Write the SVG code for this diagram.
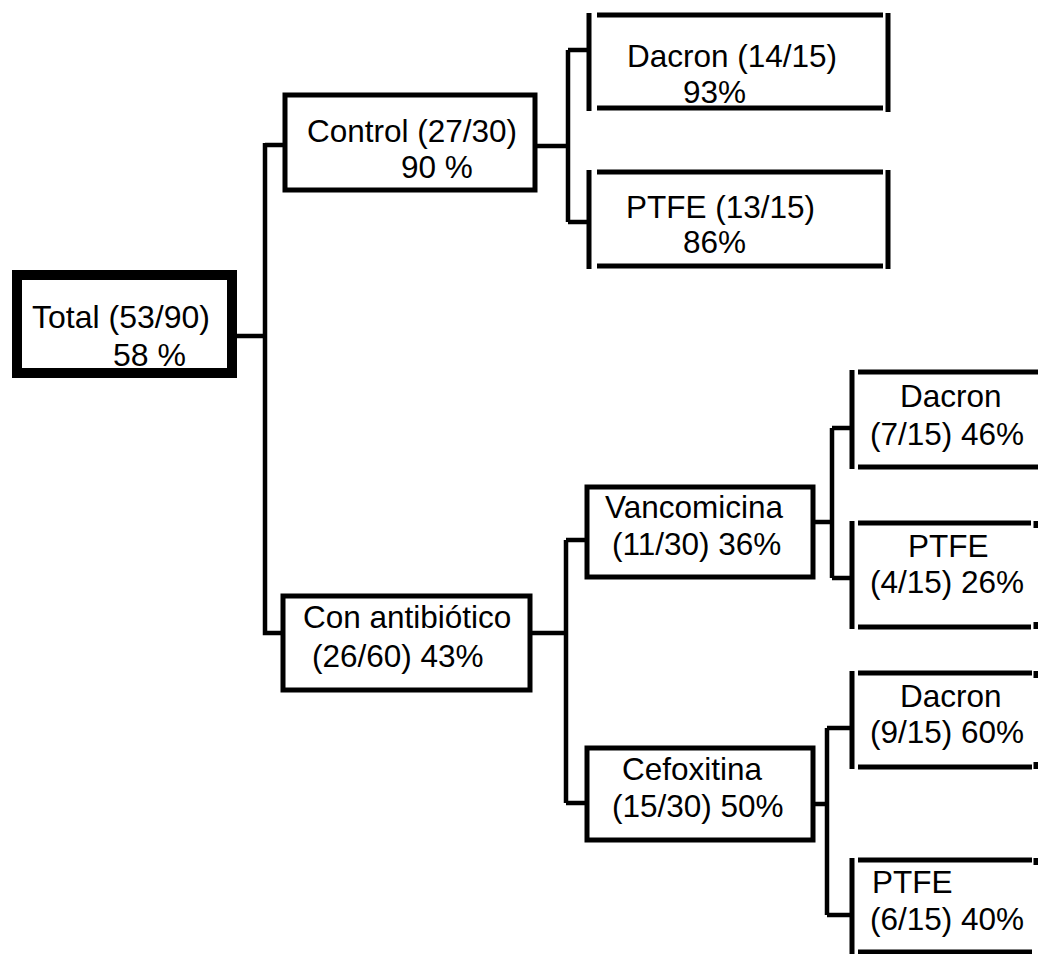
<svg xmlns="http://www.w3.org/2000/svg" width="1038" height="954" viewBox="0 0 1038 954">
<style>
text{font-family:"Liberation Sans",Arial,sans-serif;font-size:31.5px;fill:#000}
.box{fill:#fff;stroke:#000;stroke-width:5}
.leaf{fill:none;stroke:#000;stroke-width:5}
.conn{fill:none;stroke:#000;stroke-width:4.5}
</style>
<rect width="1038" height="954" fill="#fff"/>
<g id="connectors">
<path class="conn" d="M237 336H265M265 143V633H283M265 145H285"/>
<path class="conn" d="M535 146H568M568 50V222M568 50H589M568 222H589"/>
<path class="conn" d="M530 633H566M566 540V803M566 540H587M566 803H587"/>
<path class="conn" d="M813 522H832M832 428V578M832 428H852M832 578H852"/>
<path class="conn" d="M813 804H827M827 728V915M827 728H852M827 915H852"/>
</g>
<g id="total">
<rect x="17" y="275" width="215" height="98" fill="#fff" stroke="#000" stroke-width="10"/>
<text x="32" y="328" style="font-size:32px">Total (53/90)</text>
<text x="113" y="366" style="font-size:32px">58 %</text>
</g>
<g id="control">
<rect class="box" x="285" y="95" width="250" height="95"/>
<text x="307" y="142">Control (27/30)</text>
<text x="401" y="178">90 %</text>
</g>
<g id="control-dacron">
<path class="leaf" d="M589 13V111M597 15H883M597 108H883M888 13V112"/>
<text x="627" y="67">Dacron (14/15)</text>
<text x="683" y="103">93%</text>
</g>
<g id="control-ptfe">
<path class="leaf" d="M589 170V269M597 172H883M597 266H883M888 170V269"/>
<text x="626" y="218">PTFE (13/15)</text>
<text x="683" y="253">86%</text>
</g>
<g id="antibiotico">
<rect class="box" x="283" y="596" width="247" height="94"/>
<text x="303" y="628">Con antibiótico</text>
<text x="312" y="667">(26/60) 43%</text>
</g>
<g id="vancomicina">
<rect class="box" x="587" y="487" width="226" height="90"/>
<text x="605" y="518">Vancomicina</text>
<text x="612" y="555">(11/30) 36%</text>
</g>
<g id="cefoxitina">
<rect class="box" x="587" y="748" width="226" height="92"/>
<text x="622" y="780">Cefoxitina</text>
<text x="612" y="817">(15/30) 50%</text>
</g>
<g id="vanco-dacron">
<path class="leaf" d="M852 370V469M858 372H1038M858 467H1038"/>
<text x="900" y="407">Dacron</text>
<text x="870" y="445">(7/15) 46%</text>
</g>
<g id="vanco-ptfe">
<path class="leaf" d="M852 521V629M858 523H1031M858 627H1031M1036 521V528M1036 622V629"/>
<text x="908" y="557">PTFE</text>
<text x="870" y="593">(4/15) 26%</text>
</g>
<g id="cefox-dacron">
<path class="leaf" d="M852 671V769M858 673H1032M858 767H1032M1036 671V678M1036 762V769"/>
<text x="900" y="707">Dacron</text>
<text x="870" y="743">(9/15) 60%</text>
</g>
<g id="cefox-ptfe">
<path class="leaf" d="M852 858V954M858 860H1032M858 952H1032M1036 858V865"/>
<text x="872" y="893">PTFE</text>
<text x="870" y="930">(6/15) 40%</text>
</g>
</svg>
